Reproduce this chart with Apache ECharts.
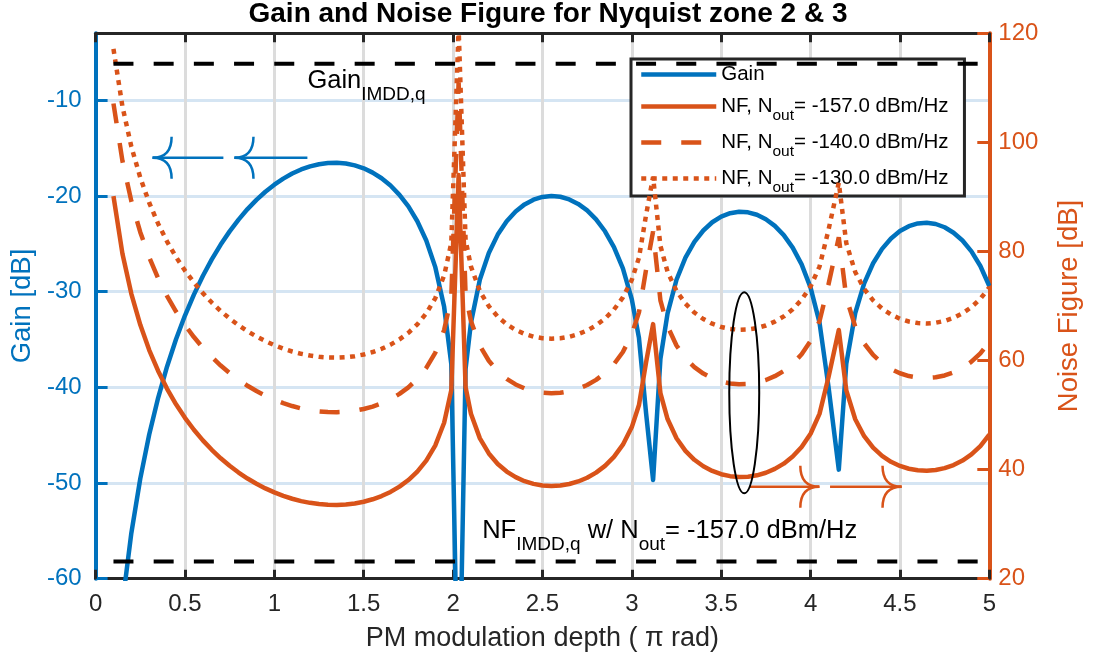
<!DOCTYPE html>
<html>
<head>
<meta charset="utf-8">
<script src="https://cdn.jsdelivr.net/npm/echarts@6/dist/echarts.min.js"></script>
<style>
  html, body { margin: 0; padding: 0; background: #fff; }
  #chart { width: 1096px; height: 660px; }
</style>
</head>
<body>
<div id="chart"></div>
<script>
// PM modulation depth (in units of pi rad)
const depth = [0.10,0.15,0.20,0.25,0.30,0.35,0.40,0.45,0.50,0.55,0.60,0.65,0.70,0.75,0.80,0.85,0.90,0.95,1.00,1.05,
  1.10,1.15,1.20,1.25,1.30,1.35,1.40,1.45,1.50,1.55,1.60,1.65,1.70,1.75,1.80,1.85,1.90,1.95,1.99,2.031,
  2.07,2.10,2.15,2.20,2.25,2.30,2.35,2.40,2.45,2.50,2.55,2.60,2.65,2.70,2.75,2.80,2.85,2.90,2.95,3.00,
  3.04,3.08,3.119,3.16,3.20,3.25,3.30,3.35,3.40,3.45,3.50,3.55,3.60,3.65,3.70,3.75,3.80,3.85,3.90,3.95,
  4.00,4.05,4.10,4.158,4.20,4.25,4.30,4.35,4.40,4.45,4.50,4.55,4.60,4.65,4.70,4.75,4.80,4.85,4.90,4.95,5.00];

// Link gain [dB]
const gainDb = [-73.13,-62.63,-55.23,-49.54,-44.93,-41.09,-37.82,-34.98,-32.50,-30.31,-28.36,-26.63,-25.08,-23.70,-22.47,-21.37,-20.41,-19.56,-18.82,-18.19,
  -17.66,-17.23,-16.91,-16.68,-16.55,-16.53,-16.61,-16.80,-17.11,-17.56,-18.15,-18.91,-19.88,-21.09,-22.64,-24.65,-27.41,-31.59,-37.55,-77.00,
  -38.09,-33.25,-28.73,-25.96,-24.04,-22.64,-21.62,-20.88,-20.39,-20.10,-20.00,-20.08,-20.36,-20.83,-21.51,-22.45,-23.69,-25.34,-27.57,-30.80,
  -34.84,-42.73,-49.68,-37.03,-32.27,-28.76,-26.44,-24.80,-23.61,-22.75,-22.16,-21.80,-21.65,-21.71,-21.96,-22.43,-23.13,-24.09,-25.40,-27.15,
  -29.58,-33.22,-39.89,-48.60,-37.52,-32.23,-29.13,-27.03,-25.53,-24.44,-23.67,-23.16,-22.87,-22.80,-22.93,-23.27,-23.84,-24.66,-25.79,-27.32,-29.41];

// Noise figure [dB], N_out = -157 dBm/Hz
const nfLow = [90.13,79.63,72.23,66.54,61.93,58.09,54.82,51.98,49.50,47.31,45.36,43.63,42.08,40.70,39.47,38.37,37.41,36.56,35.82,35.19,
  34.66,34.23,33.91,33.68,33.55,33.53,33.61,33.80,34.11,34.56,35.15,35.91,36.88,38.09,39.64,41.65,44.41,48.59,54.55,94.00,
  55.09,50.25,45.73,42.96,41.04,39.64,38.62,37.88,37.39,37.10,37.00,37.08,37.36,37.83,38.51,39.45,40.69,42.34,44.57,47.80,
  51.84,59.73,66.68,54.03,49.27,45.76,43.44,41.80,40.61,39.75,39.16,38.80,38.65,38.71,38.96,39.43,40.13,41.09,42.40,44.15,
  46.58,50.22,56.89,65.60,54.52,49.23,46.13,44.03,42.53,41.44,40.67,40.16,39.87,39.80,39.93,40.27,40.84,41.66,42.79,44.32,46.41];

// Noise figure [dB], N_out = -140 dBm/Hz
const nfMid = [107.13,96.63,89.23,83.54,78.93,75.09,71.82,68.98,66.50,64.31,62.36,60.63,59.08,57.70,56.47,55.37,54.41,53.56,52.82,52.19,
  51.66,51.23,50.91,50.68,50.55,50.53,50.61,50.80,51.11,51.56,52.15,52.91,53.88,55.09,56.64,58.65,61.41,65.59,71.55,111.00,
  72.09,67.25,62.73,59.96,58.04,56.64,55.62,54.88,54.39,54.10,54.00,54.08,54.36,54.83,55.51,56.45,57.69,59.34,61.57,64.80,
  68.84,76.73,83.68,71.03,66.27,62.76,60.44,58.80,57.61,56.75,56.16,55.80,55.65,55.71,55.96,56.43,57.13,58.09,59.40,61.15,
  63.58,67.22,73.89,82.60,71.52,66.23,63.13,61.03,59.53,58.44,57.67,57.16,56.87,56.80,56.93,57.27,57.84,58.66,59.79,61.32,63.41];

// Noise figure [dB], N_out = -130 dBm/Hz
const nfHigh = [117.13,106.63,99.23,93.54,88.93,85.09,81.82,78.98,76.50,74.31,72.36,70.63,69.08,67.70,66.47,65.37,64.41,63.56,62.82,62.19,
  61.66,61.23,60.91,60.68,60.55,60.53,60.61,60.80,61.11,61.56,62.15,62.91,63.88,65.09,66.64,68.65,71.41,75.59,81.55,121.00,
  82.09,77.25,72.73,69.96,68.04,66.64,65.62,64.88,64.39,64.10,64.00,64.08,64.36,64.83,65.51,66.45,67.69,69.34,71.57,74.80,
  78.84,86.73,93.68,81.03,76.27,72.76,70.44,68.80,67.61,66.75,66.16,65.80,65.65,65.71,65.96,66.43,67.13,68.09,69.40,71.15,
  73.58,77.22,83.89,92.60,81.52,76.23,73.13,71.03,69.53,68.44,67.67,67.16,66.87,66.80,66.93,67.27,67.84,68.66,69.79,71.32,73.41];

// IM/DD reference levels
const imddSpan = [0.1, 5.0];
const gainImdd = -6.17;
const nfImdd = 23.17;

const noiseLabels = ['-157.0', '-140.0', '-130.0'];
const gainTicks = [-60, -50, -40, -30, -20, -10];

// Annotations (data units): arrows [tail x, tip x, level], ellipse [x, y, rx, ry], note anchors [x, baseline y]
const gainArrows = [[0.715, 0.319, -16.0], [1.185, 0.777, -16.0]];
const nfArrows = [[3.661, 4.049, 36.84], [4.109, 4.509, 36.84]];
const minimaMarker = [[3.629, 54.1, 0.0838, 18.44]];
const gainNoteAt = [[1.185, -8.85]];
const nfNoteAt = [[2.163, 27.23]];

const FONT = 'Liberation Sans';
const BLUE = '#0072BD';
const ORANGE = '#D95319';
const INK = '#262626';

const pair = (xs, ys) => xs.map((x, i) => [x, ys[i]]);
const nfName = i => 'NF, Nout= ' + noiseLabels[i] + ' dBm/Hz';

// main text with a lowered subscript, laid out as one rich-text line
const noteRich = {
  m: { fontSize: 25.5, fontFamily: FONT, fill: '#000', lineHeight: 30, verticalAlign: 'middle' },
  s: { fontSize: 19, fontFamily: FONT, fill: '#000', lineHeight: 19, padding: [27, 0, 0, 0], verticalAlign: 'middle' }
};

function noteRenderer(text) {
  return function (params, api) {
    const p = api.coord([api.value(0), api.value(1)]);
    return {
      type: 'text', x: p[0], y: p[1] - 23,
      style: { text: text, rich: noteRich, align: 'left', verticalAlign: 'top' }
    };
  };
}

function arrowRenderer(color) {
  return function (params, api) {
    const level = api.value(2);
    const tail = api.coord([api.value(0), level]);
    const tip = api.coord([api.value(1), level]);
    const dir = tail[0] > tip[0] ? 1 : -1;
    const wx = tip[0] + dir * 19;
    const st = { stroke: color, fill: 'none', lineWidth: 2.5 };
    return {
      type: 'group',
      children: [
        { type: 'line', shape: { x1: tail[0], y1: tail[1], x2: tip[0], y2: tip[1] }, style: st },
        { type: 'bezierCurve', shape: { x1: tip[0], y1: tip[1], x2: wx, y2: tip[1] - 21, cpx1: wx, cpy1: tip[1] }, style: st },
        { type: 'bezierCurve', shape: { x1: tip[0], y1: tip[1], x2: wx, y2: tip[1] + 21, cpx1: wx, cpy1: tip[1] }, style: st }
      ]
    };
  };
}

const chart = echarts.init(document.getElementById('chart'), null, { renderer: 'canvas' });

const option = {
  animation: false,
  backgroundColor: '#fff',
  textStyle: { fontFamily: FONT },
  title: {
    text: 'Gain and Noise Figure for Nyquist zone 2 & 3',
    left: 'center', top: 0, padding: [0, 7, 0, 0],
    textStyle: { fontFamily: FONT, fontSize: 28, fontWeight: 'bold', color: '#000' }
  },
  grid: { left: 95, top: 33.3, width: 894.3, height: 545.4, containLabel: false },
  legend: {
    data: ['Gain', nfName(0), nfName(1), nfName(2)],
    orient: 'vertical', left: 631, top: 59,
    padding: [2, 16, 0, 8], itemGap: 1, itemWidth: 75, itemHeight: 14,
    backgroundColor: '#fff', borderColor: INK, borderWidth: 3, borderRadius: 0,
    selectedMode: false,
    itemStyle: { opacity: 0 },
    lineStyle: { width: 4.5 },
    formatter: function (name) {
      if (name === 'Gain') return '{g|Gain}';
      const lvl = name.split('= ')[1];
      return '{m|NF, N}{s|out}{m|= ' + lvl + '}';
    },
    textStyle: {
      fontSize: 20.5, color: '#000', fontFamily: FONT,
      rich: {
        g: { fontSize: 20.5, lineHeight: 20, padding: [3, 0, 3, 0], verticalAlign: 'middle', color: '#000', fontFamily: FONT },
        m: { fontSize: 20.5, lineHeight: 28, verticalAlign: 'middle', color: '#000', fontFamily: FONT },
        s: { fontSize: 15.5, lineHeight: 15, padding: [19, 0, 0, 0], verticalAlign: 'middle', color: '#000', fontFamily: FONT }
      }
    }
  },
  xAxis: [
    {
      type: 'value', min: 0, max: 5, interval: 0.5, position: 'bottom',
      name: 'PM modulation depth ( \u03c0 rad)', nameLocation: 'middle', nameGap: 46,
      nameTextStyle: { fontSize: 27, color: INK, fontFamily: FONT },
      axisLine: { onZero: false, lineStyle: { color: INK, width: 3 } },
      axisTick: { inside: true, length: 9, lineStyle: { color: INK, width: 3 } },
      axisLabel: { fontSize: 24, color: INK, margin: 14, fontFamily: FONT },
      splitLine: { show: true, lineStyle: { color: '#dcdcdc', width: 3 } }
    },
    {
      type: 'value', min: 0, max: 5, interval: 0.5, position: 'top',
      axisLine: { onZero: false, lineStyle: { color: INK, width: 3 } },
      axisTick: { inside: true, length: 9, lineStyle: { color: INK, width: 3 } },
      axisLabel: { show: false },
      splitLine: { show: false }
    }
  ],
  yAxis: [
    {
      type: 'value', min: -60, max: -3, interval: 10, position: 'left',
      name: 'Gain [dB]', nameLocation: 'middle', nameGap: 55,
      nameTextStyle: { fontSize: 27.5, color: BLUE, fontFamily: FONT },
      axisLine: { show: true, onZero: false, lineStyle: { color: BLUE, width: 4 } },
      axisTick: { show: true, inside: true, length: 12, customValues: gainTicks, lineStyle: { color: BLUE, width: 3 } },
      axisLabel: { fontSize: 24, color: BLUE, margin: 14, customValues: gainTicks, fontFamily: FONT },
      splitLine: { show: true, lineStyle: { color: '#d5e5f3', width: 3 } }
    },
    {
      type: 'value', min: 20, max: 120, interval: 20, position: 'right',
      name: 'Noise Figure [dB]', nameLocation: 'middle', nameGap: 66,
      nameTextStyle: { fontSize: 27.5, color: ORANGE, fontFamily: FONT },
      axisLine: { show: true, onZero: false, lineStyle: { color: ORANGE, width: 4 } },
      axisTick: { show: true, inside: true, length: 12, lineStyle: { color: ORANGE, width: 3 } },
      axisLabel: { fontSize: 24, color: ORANGE, margin: 9, fontFamily: FONT },
      splitLine: { show: false }
    }
  ],
  series: [
    {
      name: 'Gain', type: 'line', xAxisIndex: 0, yAxisIndex: 0,
      data: pair(depth, gainDb), symbol: 'none', clip: true, z: 3,
      itemStyle: { color: BLUE },
      lineStyle: { color: BLUE, width: 4.5, join: 'round' }
    },
    {
      name: nfName(0), type: 'line', xAxisIndex: 0, yAxisIndex: 1,
      data: pair(depth, nfLow), symbol: 'none', clip: true, z: 4,
      itemStyle: { color: ORANGE },
      lineStyle: { color: ORANGE, width: 4.5, type: 'solid', join: 'round' }
    },
    {
      name: nfName(1), type: 'line', xAxisIndex: 0, yAxisIndex: 1,
      data: pair(depth, nfMid), symbol: 'none', clip: true, z: 4,
      itemStyle: { color: ORANGE },
      lineStyle: { color: ORANGE, width: 4.5, type: [20, 20], cap: 'butt' }
    },
    {
      name: nfName(2), type: 'line', xAxisIndex: 0, yAxisIndex: 1,
      data: pair(depth, nfHigh), symbol: 'none', clip: true, z: 4,
      itemStyle: { color: ORANGE },
      lineStyle: { color: ORANGE, width: 4.5, type: [5, 5.5], cap: 'butt' }
    },
    {
      name: 'Gain IMDD', type: 'line', xAxisIndex: 0, yAxisIndex: 0,
      data: imddSpan.map(x => [x, gainImdd]), symbol: 'none', z: 5,
      lineStyle: { color: '#000', width: 4, type: [20, 20.2], cap: 'butt' }
    },
    {
      name: 'NF IMDD', type: 'line', xAxisIndex: 0, yAxisIndex: 1,
      data: imddSpan.map(x => [x, nfImdd]), symbol: 'none', z: 5,
      lineStyle: { color: '#000', width: 4, type: [20, 20.2], cap: 'butt' }
    },
    {
      type: 'custom', xAxisIndex: 0, yAxisIndex: 0, silent: true, clip: false, z: 6,
      data: gainArrows, renderItem: arrowRenderer(BLUE)
    },
    {
      type: 'custom', xAxisIndex: 0, yAxisIndex: 1, silent: true, clip: false, z: 6,
      data: nfArrows, renderItem: arrowRenderer(ORANGE)
    },
    {
      type: 'custom', xAxisIndex: 0, yAxisIndex: 1, silent: true, clip: false, z: 6,
      data: minimaMarker,
      renderItem: function (params, api) {
        const c = api.coord([api.value(0), api.value(1)]);
        const r = api.size([api.value(2), api.value(3)]);
        return {
          type: 'ellipse', shape: { cx: c[0], cy: c[1], rx: r[0], ry: r[1] },
          style: { stroke: '#000', fill: 'none', lineWidth: 2 }
        };
      }
    },
    {
      type: 'custom', xAxisIndex: 0, yAxisIndex: 0, silent: true, clip: false, z: 6,
      data: gainNoteAt, renderItem: noteRenderer('{m|Gain}{s|IMDD,q}')
    },
    {
      type: 'custom', xAxisIndex: 0, yAxisIndex: 1, silent: true, clip: false, z: 6,
      data: nfNoteAt, renderItem: noteRenderer('{m|NF}{s|IMDD,q}{m| w/ N}{s|out}{m|= -157.0 dBm/Hz}')
    }
  ]
};

chart.setOption(option);
</script>
</body>
</html>
